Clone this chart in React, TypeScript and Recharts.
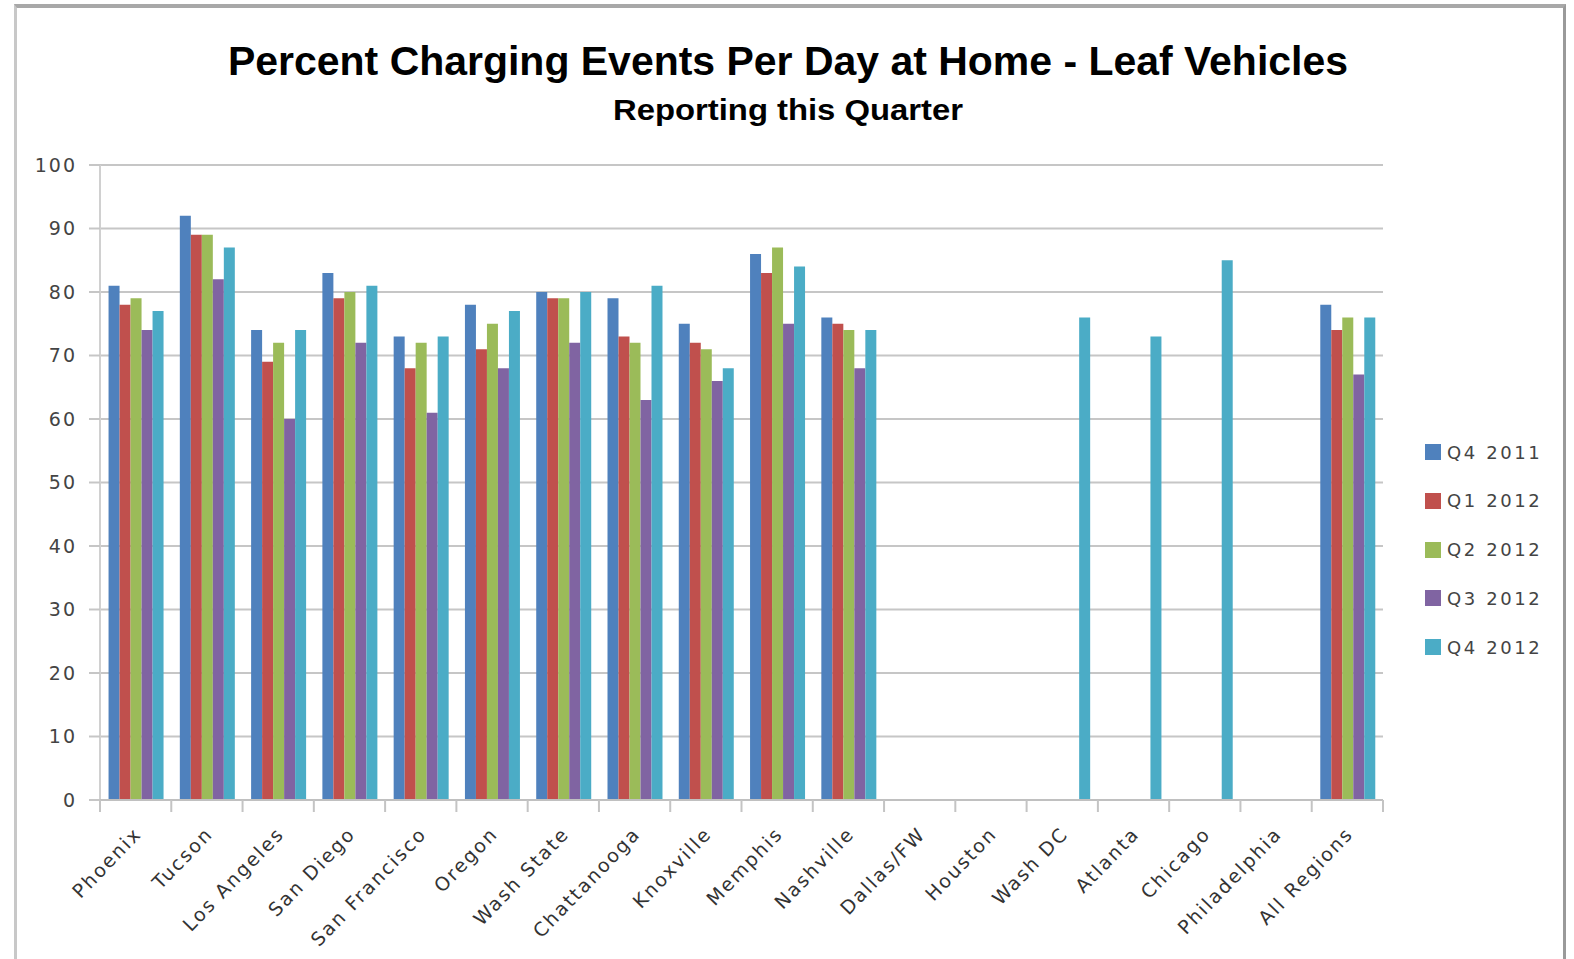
import React from "react";
import { BarChart, Bar, XAxis, YAxis, CartesianGrid } from "recharts";

const categories = ["Phoenix", "Tucson", "Los Angeles", "San Diego", "San Francisco", "Oregon", "Wash State", "Chattanooga", "Knoxville", "Memphis", "Nashville", "Dallas/FW", "Houston", "Wash DC", "Atlanta", "Chicago", "Philadelphia", "All Regions"];
const q42011 = [81, 92, 74, 83, 73, 78, 80, 79, 75, 86, 76, null, null, null, null, null, null, 78];
const q12012 = [78, 89, 69, 79, 68, 71, 79, 73, 72, 83, 75, null, null, null, null, null, null, 74];
const q22012 = [79, 89, 72, 80, 72, 75, 79, 72, 71, 87, 74, null, null, null, null, null, null, 76];
const q32012 = [74, 82, 60, 72, 61, 68, 72, 63, 66, 75, 68, null, null, null, null, null, null, 67];
const q42012 = [77, 87, 74, 81, 73, 77, 80, 81, 68, 84, 74, null, null, 76, 73, 85, null, 76];
const yTicks = [0, 10, 20, 30, 40, 50, 60, 70, 80, 90, 100];

const seriesNames = ["Q4 2011", "Q1 2012", "Q2 2012", "Q3 2012", "Q4 2012"];
const seriesKeys = ["q42011", "q12012", "q22012", "q32012", "q42012"];
const seriesColors = ["#4F81BD", "#C0504D", "#9BBB59", "#8064A2", "#4BACC6"];
const seriesValues = [q42011, q12012, q22012, q32012, q42012];

const data = categories.map((c, i) => {
  const row: any = { name: c };
  seriesKeys.forEach((k, s) => {
    row[k] = seriesValues[s][i];
  });
  return row;
});

const W = 1574;
const H = 959;
const PLOT_LEFT = 100;
const PLOT_RIGHT = 1383;
const BAND = (PLOT_RIGHT - PLOT_LEFT) / categories.length;
const FONT = "'DejaVu Sans', 'Liberation Sans', sans-serif";

const XTick = (props: any) => {
  const { x, y, payload, index } = props;
  const ax = x + 7;
  const ay = y + 27;
  return (
    <g>
      <line x1={x - BAND / 2} x2={x - BAND / 2} y1={y - 8} y2={y + 4} stroke="#c4c4c4" strokeWidth={2} />
      {index === categories.length - 1 && (
        <line x1={x + BAND / 2} x2={x + BAND / 2} y1={y - 8} y2={y + 4} stroke="#c4c4c4" strokeWidth={2} />
      )}
      <text
        x={ax}
        y={ay}
        textAnchor="end"
        fontFamily={FONT}
        fontSize={19}
        letterSpacing={2}
        fill="#333"
        transform={`rotate(-46 ${ax} ${ay})`}
      >
        {payload.value}
      </text>
    </g>
  );
};

export default function App() {
  return (
    <div style={{ position: "absolute", left: 0, top: 0, width: W, height: H, background: "#fff", overflow: "hidden" }}>
      <div
        style={{
          position: "absolute",
          left: 14,
          top: 4,
          width: 1552,
          height: 1000,
          borderTop: "4px solid #a8a8a8",
          borderLeft: "3px solid #c8c8c8",
          borderRight: "3px solid #9a9a9a",
          boxSizing: "border-box",
        }}
      />
      <svg style={{ position: "absolute", left: 0, top: 0 }} width={W} height={160}>
        <text
          x={788}
          y={75}
          textAnchor="middle"
          fontFamily="'Liberation Sans', Arial, sans-serif"
          fontWeight="bold"
          fontSize={40}
          textLength={1120}
          lengthAdjust="spacingAndGlyphs"
          fill="#000"
        >
          Percent Charging Events Per Day at Home - Leaf Vehicles
        </text>
        <text
          x={788}
          y={120}
          textAnchor="middle"
          fontFamily="'Liberation Sans', Arial, sans-serif"
          fontWeight="bold"
          fontSize={29}
          textLength={350}
          lengthAdjust="spacingAndGlyphs"
          fill="#000"
        >
          Reporting this Quarter
        </text>
      </svg>
      <div style={{ position: "absolute", left: 0, top: 0 }}>
        <BarChart
          width={W}
          height={H}
          data={data}
          margin={{ top: 165, right: W - PLOT_RIGHT, bottom: 19, left: 20 }}
          barCategoryGap="12%"
          barGap={0}
        >
          <CartesianGrid vertical={false} stroke="#c6c6c6" strokeWidth={2} />
          <YAxis
            width={80}
            domain={[0, 100]}
            ticks={yTicks}
            interval={0}
            axisLine={{ stroke: "#d0d0d0", strokeWidth: 2 }}
            tickLine={{ stroke: "#c6c6c6", strokeWidth: 2 }}
            tickSize={11}
            tickMargin={12}
            tick={{ fontFamily: FONT, fontSize: 19, fill: "#444", letterSpacing: 2 }}
          />
          <XAxis
            dataKey="name"
            height={140}
            interval={0}
            axisLine={{ stroke: "#c0c0c0", strokeWidth: 2 }}
            tickLine={false}
            tick={<XTick />}
          />
          {seriesKeys.map((k, s) => (
            <Bar key={k} dataKey={k} name={seriesNames[s]} fill={seriesColors[s]} isAnimationActive={false} />
          ))}
        </BarChart>
      </div>
      <div style={{ position: "absolute", left: 1425, top: 442 }}>
        {seriesNames.map((n, s) => (
          <div key={n} style={{ display: "flex", alignItems: "center", height: 20, marginBottom: 28.75 }}>
            <div style={{ width: 16, height: 16, background: seriesColors[s], marginRight: 6 }} />
            <span style={{ fontFamily: FONT, fontSize: 18, color: "#444", letterSpacing: 2.6 }}>{n}</span>
          </div>
        ))}
      </div>
    </div>
  );
}
